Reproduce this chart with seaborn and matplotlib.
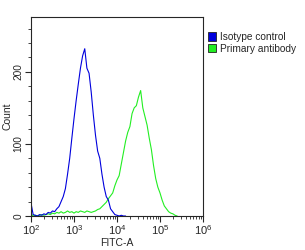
import numpy as np
import pandas as pd
import seaborn as sns
import matplotlib.pyplot as plt
from matplotlib.patches import Patch
from matplotlib.ticker import LogLocator, MultipleLocator, FixedLocator

# histogram bins (log10 of FITC-A), 0.05 decade steps
log_fitc_iso = [2.00, 2.05, 2.10, 2.15, 2.20, 2.25, 2.30, 2.35, 2.40, 2.45,
                2.50, 2.55, 2.60, 2.65, 2.70, 2.75, 2.80, 2.85, 2.90, 2.95,
                3.00, 3.05, 3.10, 3.15, 3.20, 3.25, 3.30, 3.35, 3.40, 3.45,
                3.50, 3.55, 3.60, 3.65, 3.70, 3.75, 3.80, 3.85, 3.90, 3.95,
                4.00, 4.05, 4.10, 4.15, 4.20]
count_iso = [18, 2, 1, 0, 2, 1, 3, 2, 5, 4,
             7, 6, 10, 13, 20, 27, 38, 58, 80, 108,
             135, 160, 183, 205, 222, 232, 205, 198, 172, 140,
             112, 90, 80, 58, 40, 27, 22, 10, 6, 2,
             1, 0, 1, 0, 0]

log_fitc_pri = [2.00, 2.05, 2.10, 2.15, 2.20, 2.25, 2.30, 2.35, 2.40, 2.45,
                2.50, 2.55, 2.60, 2.65, 2.70, 2.75, 2.80, 2.85, 2.90, 2.95,
                3.00, 3.05, 3.10, 3.15, 3.20, 3.25, 3.30, 3.35, 3.40, 3.45,
                3.50, 3.55, 3.60, 3.65, 3.70, 3.75, 3.80, 3.85, 3.90, 3.95,
                4.00, 4.05, 4.10, 4.15, 4.20, 4.25, 4.30, 4.35, 4.40, 4.45,
                4.50, 4.55, 4.60, 4.65, 4.70, 4.75, 4.80, 4.85, 4.90, 4.95,
                5.00, 5.05, 5.10, 5.15, 5.20, 5.25, 5.30, 5.35, 5.40]
count_pri = [3, 0, 1, 0, 1, 2, 1, 2, 3, 2,
             4, 3, 5, 4, 6, 4, 5, 7, 5, 6,
             4, 6, 5, 7, 6, 5, 7, 6, 5, 6,
             7, 9, 10, 13, 16, 19, 24, 28, 32, 42,
             50, 56, 72, 88, 104, 116, 124, 142, 150, 153,
             165, 174, 150, 138, 126, 108, 92, 70, 52, 40,
             32, 22, 14, 10, 6, 4, 3, 1, 0]

labels = ["Isotype control", "Primary antibody"]
colors = ["#0000dd", "#22ee22"]

sns.set_style("ticks")
plt.rcParams["font.family"] = ["Liberation Sans", "DejaVu Sans"]

fig = plt.figure(figsize=(3.05, 2.5), dpi=100)
ax = fig.add_axes([31 / 305, 1 - 216 / 250, 172 / 305, 199 / 250])

iso = pd.DataFrame({"FITC-A": 10 ** np.array(log_fitc_iso), "Count": count_iso})
pri = pd.DataFrame({"FITC-A": 10 ** np.array(log_fitc_pri), "Count": count_pri})

sns.lineplot(data=pri, x="FITC-A", y="Count", color=colors[1], lw=0.8, ax=ax)
sns.lineplot(data=iso, x="FITC-A", y="Count", color=colors[0], lw=0.8, ax=ax)

ax.set_xscale("log")
ax.set_xlim(1e2, 1e6)
ax.set_ylim(0, 276)
ax.xaxis.set_major_locator(FixedLocator([1e2, 1e3, 1e4, 1e5, 1e6]))
ax.xaxis.set_minor_locator(LogLocator(base=10, subs=np.arange(2, 10)))
ax.yaxis.set_major_locator(FixedLocator([0, 100, 200]))
ax.yaxis.set_minor_locator(MultipleLocator(20))
ax.tick_params(which="major", length=4, width=0.8, labelsize=8, pad=1.5)
ax.tick_params(axis="y", which="major", labelsize=7.3)
ax.tick_params(which="minor", length=2.5, width=0.6)
for t in ax.get_yticklabels():
    t.set_rotation(90)
    t.set_va("center")
ax.set_xlabel("FITC-A", fontsize=7.5, labelpad=0.5)
ax.set_ylabel("Count", fontsize=7.5)
ax.yaxis.set_label_coords(-0.108, 0.5)
for s in ax.spines.values():
    s.set_visible(True)
    s.set_linewidth(0.8)

handles = [Patch(facecolor=c, edgecolor="#222222", lw=0.6) for c in colors]
fig.legend(handles, labels, loc="upper left", bbox_to_anchor=(208 / 305, 1 - 32 / 250),
           frameon=False, fontsize=7.3, handlelength=0.8, handleheight=0.9,
           handletextpad=0.4, borderaxespad=0, borderpad=0, labelspacing=0.15)

fig.savefig("out.png", dpi=100)
